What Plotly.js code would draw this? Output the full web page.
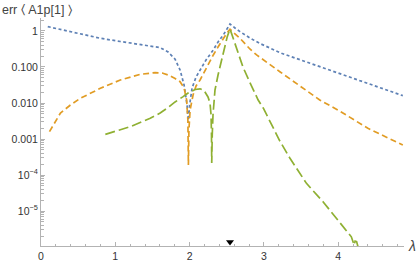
<!DOCTYPE html>
<html>
<head>
<meta charset="utf-8">
<script src="https://cdn.plot.ly/plotly-3.0.1.min.js"></script>
<style>html,body{margin:0;padding:0;background:#fff}#chart{width:420px;height:263px}</style>
</head>
<body>
<div id="chart"></div>
<script>
// Series values (x = λ, y = err)
var blueX = [0.091,0.262,0.530,0.799,1.067,1.336,1.604,1.711,1.805,1.872,1.926,1.966,1.984,2.000,2.034,2.087,2.141,2.221,2.319,2.383,2.454,2.503,2.544,2.611,2.678,2.812,2.946,3.238,3.752,4.289,4.870];
var blueY = [1.32,1.10,0.85,0.627,0.511,0.427,0.345,0.260,0.165,0.0826,0.0316,0.0088,0.00278,0.0088,0.0261,0.0527,0.0826,0.156,0.297,0.495,0.774,1.14,1.56,1.21,0.957,0.639,0.450,0.240,0.103,0.0408,0.0160];

var orangeX = [0.114,0.195,0.262,0.396,0.530,0.799,1.067,1.336,1.537,1.631,1.711,1.805,1.872,1.926,1.960,1.977,1.984,1.991,2.007,2.047,2.087,2.141,2.221,2.319,2.383,2.454,2.503,2.544,2.611,2.678,2.812,2.902,3.215,3.483,3.752,4.020,4.400,4.870];
var orangeY = [0.00160,0.00297,0.00528,0.00880,0.0135,0.0256,0.0435,0.0627,0.0695,0.0681,0.0600,0.0480,0.0391,0.0261,0.0121,0.00337,0.000190,0.00178,0.00639,0.0167,0.0297,0.0435,0.0938,0.216,0.359,0.627,0.880,1.11,0.826,0.627,0.316,0.216,0.0740,0.0297,0.0121,0.00600,0.00198,0.000681];

var greenX = [0.866,1.201,1.470,1.604,1.711,1.805,1.913,1.980,2.074,2.141,2.195,2.248,2.275,2.289,2.295,2.298,2.305,2.315,2.342,2.383,2.432,2.477,2.507,2.544,2.584,2.634,2.718,2.812,2.923,2.991,3.125,3.215,3.349,3.573,3.796,4.020,4.177,4.201,4.215,4.228,4.248,4.268];
var greenY = [0.00135,0.00220,0.00376,0.00528,0.00750,0.0107,0.0150,0.0190,0.0237,0.0248,0.0223,0.0147,0.0100,0.00464,0.00129,0.000215,0.00129,0.00464,0.0230,0.0600,0.156,0.383,0.695,1.14,0.639,0.297,0.100,0.0371,0.0121,0.00727,0.00202,0.000880,0.000297,5.88e-5,1.81e-5,5.04e-6,1.93e-6,1.38e-6,1.14e-6,1.47e-6,1.42e-6,1.0e-6];

var markerX = [2.544];
var markerY = [1.38e-6];

var xTickVals = [0,1,2,3,4];
var xTickText = ['0','1','2','3','4'];
var yTickVals = [1e-5,1e-4,0.001,0.01,0.1,1];
var yTickText = ['10<sup>\u22125</sup>','10<sup>\u22124</sup>','0.001','0.010','0.100','1'];

var yMinor = [];
for (var e = -6; e <= 0; e++) { for (var m = 2; m <= 9; m++) { yMinor.push(m * Math.pow(10, e)); } }

var FONT = 'Liberation Sans, Arial, sans-serif';
var AX = '#b3b3b3';

var traces = [
  {x: blueX, y: blueY, mode: 'lines', line: {color: '#5E81B5', width: 1.7, dash: '3px,2.5px'}, hoverinfo: 'skip'},
  {x: orangeX, y: orangeY, mode: 'lines', line: {color: '#E19C24', width: 1.7, dash: '6px,3.5px'}, hoverinfo: 'skip'},
  {x: greenX, y: greenY, mode: 'lines', line: {color: '#8FB032', width: 1.7, dash: '10px,4px'}, hoverinfo: 'skip'},
  {x: markerX, y: markerY, mode: 'markers', marker: {symbol: 'triangle-down', size: 7, color: '#000'}, hoverinfo: 'skip', cliponaxis: false}
];

var layout = {
  width: 420, height: 263,
  margin: {l: 41, r: 16, t: 18, b: 17},
  paper_bgcolor: '#fff', plot_bgcolor: '#fff',
  showlegend: false,
  font: {family: FONT, size: 10.5, color: '#333'},
  xaxis: {
    range: [0, 4.886], showgrid: false, zeroline: false,
    showline: true, linecolor: AX, linewidth: 1,
    tickmode: 'array', tickvals: xTickVals, ticktext: xTickText,
    ticks: 'inside', ticklen: 4, tickcolor: AX, tickwidth: 1,
    minor: {dtick: 0.2, ticks: 'inside', ticklen: 2.5, tickcolor: AX, showgrid: false},
    tickfont: {family: FONT, size: 10.5, color: '#333'}
  },
  yaxis: {
    type: 'log', range: [-5.97, 0.36], showgrid: false, zeroline: false,
    showline: true, linecolor: AX, linewidth: 1,
    tickmode: 'array', tickvals: yTickVals, ticktext: yTickText,
    ticks: 'inside', ticklen: 4, tickcolor: AX, tickwidth: 1,
    minor: {tickmode: 'array', tickvals: yMinor, ticks: 'inside', ticklen: 2.5, tickcolor: AX, showgrid: false},
    tickfont: {family: FONT, size: 10.5, color: '#333'}
  },
  annotations: [
    {text: 'err \u2329 A1p[1] \u232A', xref: 'paper', yref: 'paper', x: 0, y: 1, xshift: -41, yshift: 8, xanchor: 'left', yanchor: 'middle', showarrow: false, font: {family: FONT, size: 12.5, color: '#444'}},
    {text: '<i>\u03BB</i>', xref: 'paper', yref: 'paper', x: 1, y: 0, xshift: 2, xanchor: 'left', yanchor: 'middle', showarrow: false, font: {family: FONT, size: 14, color: '#444'}}
  ]
};

Plotly.newPlot('chart', traces, layout, {staticPlot: true, displayModeBar: false});
</script>
</body>
</html>
